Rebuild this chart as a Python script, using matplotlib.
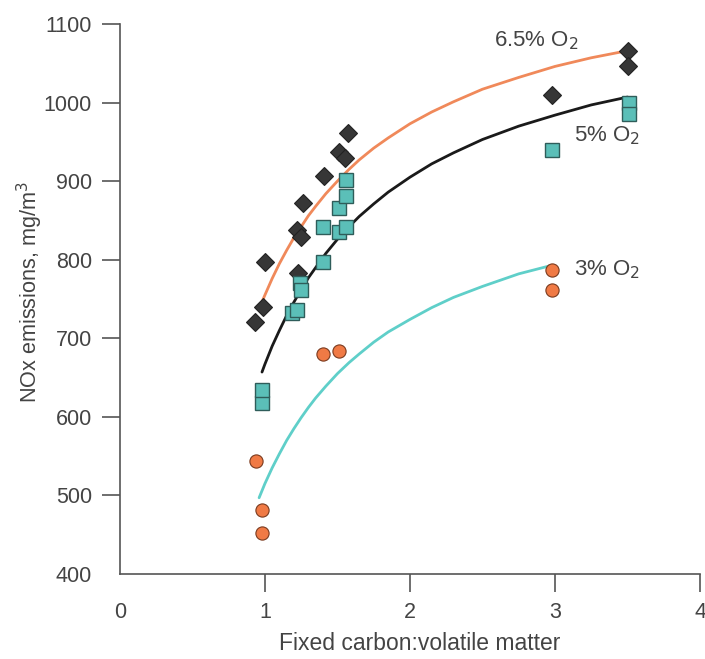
import matplotlib
matplotlib.use("Agg")
import matplotlib.pyplot as plt

plt.rcParams['font.family'] = ['Liberation Sans', 'DejaVu Sans']

# Scatter data
diamond_x = [0.93, 0.99, 1.00, 1.22, 1.25, 1.23, 1.26, 1.41, 1.51, 1.55, 1.57, 2.98, 3.50, 3.50]
diamond_y = [721, 740, 797, 838, 829, 783, 872, 907, 937, 930, 961, 1009, 1065, 1046]

square_x = [0.98, 0.98, 1.19, 1.22, 1.24, 1.25, 1.40, 1.40, 1.51, 1.56, 1.51, 1.56, 1.56, 2.98, 3.51, 3.51]
square_y = [617, 634, 732, 736, 770, 761, 797, 841, 835, 841, 866, 881, 901, 939, 999, 986]

circle_x = [0.94, 0.98, 0.98, 1.40, 1.51, 2.98, 2.98]
circle_y = [544, 481, 452, 680, 684, 787, 761]

# Trend curves
curve65_x = [0.97, 1.0, 1.05, 1.1, 1.15, 1.2, 1.25, 1.3, 1.35, 1.42, 1.5, 1.58, 1.65, 1.75, 1.85, 2.0, 2.15, 2.3, 2.5, 2.75, 3.0, 3.25, 3.5]
curve65_y = [742, 755, 776, 795, 812, 828, 842, 856, 868, 884, 900, 915, 927, 942, 955, 973, 988, 1001, 1017, 1032, 1046, 1057, 1066]

curve5_x = [0.98, 1.0, 1.05, 1.1, 1.15, 1.2, 1.25, 1.3, 1.35, 1.42, 1.5, 1.58, 1.65, 1.75, 1.85, 2.0, 2.15, 2.3, 2.5, 2.75, 3.0, 3.25, 3.5]
curve5_y = [657, 667, 690, 710, 729, 746, 762, 777, 790, 808, 826, 842, 855, 871, 886, 905, 922, 936, 953, 970, 984, 997, 1007]

curve3_x = [0.96, 1.0, 1.05, 1.1, 1.15, 1.2, 1.25, 1.3, 1.35, 1.42, 1.5, 1.58, 1.65, 1.75, 1.85, 2.0, 2.15, 2.3, 2.5, 2.75, 2.96]
curve3_y = [497, 515, 535, 553, 570, 585, 599, 612, 624, 639, 655, 669, 680, 695, 708, 724, 739, 752, 766, 782, 792]

labels = ["6.5% O$_2$", "5% O$_2$", "3% O$_2$"]
label_pos = [(2.58, 1079), (3.13, 958), (3.13, 787)]

xticks = [0, 1, 2, 3, 4]
yticks = [400, 500, 600, 700, 800, 900, 1000, 1100]

fig = plt.figure(figsize=(7.05, 6.59), dpi=100)
ax = fig.add_axes([0.170, 0.129, 0.823, 0.8346])

ax.plot(curve65_x, curve65_y, color='#f0895a', lw=2.0, zorder=2, solid_capstyle='round')
ax.plot(curve5_x, curve5_y, color='#1a1a1a', lw=2.0, zorder=2, solid_capstyle='round')
ax.plot(curve3_x, curve3_y, color='#5fcfc9', lw=2.0, zorder=2, solid_capstyle='round')

ax.plot(diamond_x, diamond_y, 'D', ms=9, color='#363636', mec='#222222', mew=0.8, ls='none', zorder=3)
ax.plot(square_x, square_y, 's', ms=9.5, color='#5bbfb8', mec='#2f5d5a', mew=1.0, ls='none', zorder=3)
ax.plot(circle_x, circle_y, 'o', ms=9.5, color='#f07a45', mec='#7a3a1e', mew=0.8, ls='none', zorder=3)

for t, (x, y) in zip(labels, label_pos):
    ax.text(x, y, t, fontsize=16, color='#444444', va='center', ha='left')

ax.set_xlim(0, 4)
ax.set_ylim(400, 1100)
ax.set_xticks(xticks)
ax.set_yticks(yticks)
ax.set_xticklabels([str(v) for v in xticks])
ax.set_yticklabels([str(v) for v in yticks])
ax.xaxis.get_major_ticks()[0].tick1line.set_visible(False)
ax.yaxis.get_major_ticks()[0].tick1line.set_visible(False)
for sp in ['top', 'right']:
    ax.spines[sp].set_visible(False)
for sp in ['left', 'bottom']:
    ax.spines[sp].set_color('#555555')
    ax.spines[sp].set_linewidth(1.2)
ax.tick_params(axis='both', direction='out', length=13, width=1.2, color='#555555',
               labelsize=15.5, labelcolor='#444444', pad=7)

ax.set_xlabel('Fixed carbon:volatile matter', fontsize=16.5, color='#444444')
ax.set_ylabel('NOx emissions, mg/m$^3$', fontsize=15.6, color='#444444')
ax.xaxis.label.set_va('center')
ax.yaxis.label.set_va('center')
ax.xaxis.set_label_coords(0.517, -0.127)
ax.yaxis.set_label_coords(-0.155, 0.513)

fig.savefig('out.png', dpi=100)
